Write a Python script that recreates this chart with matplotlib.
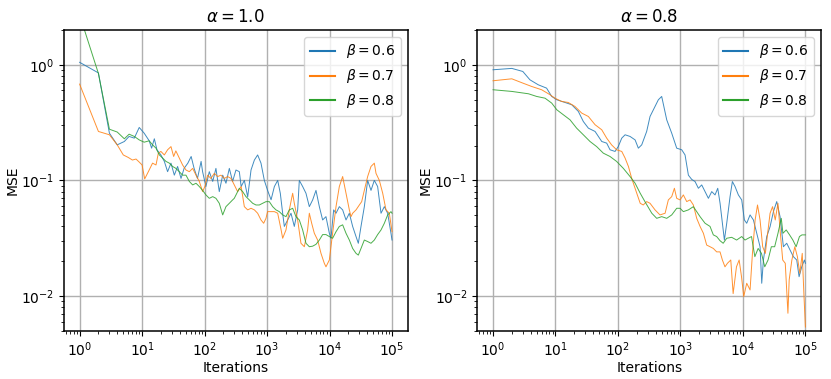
import matplotlib
matplotlib.use("Agg")
from matplotlib import pyplot as plt

# alpha = 1.0
it_a10_b06 = [1, 2, 3, 4, 5.2, 6.2, 7.5, 9, 10.8, 13, 14.2, 15.7, 17.3, 20, 22.7, 25.6, 29, 32.8, 37, 42,
              47, 54, 61, 68, 77, 88, 93, 105, 119, 135, 152, 172, 195, 220, 249, 281, 318, 360, 385, 433,
              490, 554, 627, 707, 800, 905, 1020, 1160, 1310, 1480, 1630, 1778, 1890, 2138, 2417, 2730, 3090,
              3283, 3715, 4198, 4750, 5370, 6070, 6870, 7760, 8770, 9930, 10550, 11640, 12700, 14350, 16220,
              18360, 20750, 23450, 26550, 28900, 31900, 36060, 40760, 46100, 52100, 58900, 66700, 75400,
              85200, 96300, 100000]
mse_a10_b06 = [1.05, 0.85, 0.256, 0.203, 0.217, 0.24, 0.232, 0.287, 0.256, 0.22, 0.19, 0.229, 0.184, 0.166,
               0.146, 0.119, 0.141, 0.111, 0.132, 0.104, 0.127, 0.141, 0.161, 0.127, 0.104, 0.146, 0.119,
               0.0885, 0.119, 0.098, 0.127, 0.080, 0.111, 0.0945, 0.127, 0.098, 0.123, 0.119, 0.0885, 0.100,
               0.072, 0.123, 0.150, 0.166, 0.141, 0.100, 0.082, 0.068, 0.0885, 0.100, 0.0774, 0.052, 0.040,
               0.0455, 0.052, 0.040, 0.0556, 0.100, 0.0885, 0.0774, 0.0593, 0.0678, 0.082, 0.0593, 0.0455,
               0.0486, 0.0349, 0.0316, 0.0556, 0.052, 0.0593, 0.0556, 0.0455, 0.052, 0.040, 0.0327, 0.0286,
               0.040, 0.0593, 0.100, 0.082, 0.100, 0.0885, 0.052, 0.0593, 0.052, 0.0349, 0.0305]

it_a10_b07 = [1, 2, 3, 4, 5, 6, 7, 8, 9, 10, 11, 12.6, 14.7, 16.7, 18.2, 20, 22.7, 25.6, 29, 32, 34.7, 39.4,
              44.5, 50.4, 57, 64.5, 72.9, 82.4, 93, 101, 112, 126, 143, 162, 183, 207, 234, 265, 299, 338,
              385, 433, 490, 554, 627, 707, 800, 883, 961, 1020, 1160, 1310, 1480, 1680, 1778, 2010, 2272,
              2570, 2730, 3090, 3490, 3950, 4460, 4750, 5180, 5710, 6450, 7300, 8250, 8770, 9930, 11200,
              12700, 14350, 16220, 18360, 20750, 22050, 23450, 26550, 30000, 32700, 36060, 40760, 46100,
              52100, 55460, 62700, 70960, 80170, 90600, 100000]
mse_a10_b07 = [0.68, 0.265, 0.248, 0.203, 0.166, 0.158, 0.150, 0.153, 0.144, 0.136, 0.103, 0.119, 0.141,
               0.136, 0.172, 0.178, 0.166, 0.184, 0.196, 0.161, 0.180, 0.156, 0.136, 0.123, 0.119, 0.127,
               0.111, 0.098, 0.080, 0.0885, 0.111, 0.104, 0.115, 0.108, 0.111, 0.104, 0.108, 0.104, 0.0914,
               0.080, 0.0885, 0.0593, 0.0556, 0.0574, 0.0556, 0.052, 0.0455, 0.0426, 0.047, 0.0537, 0.0537,
               0.0537, 0.052, 0.0373, 0.0316, 0.0373, 0.0556, 0.0774, 0.0634, 0.0455, 0.0286, 0.0267, 0.0373,
               0.052, 0.0426, 0.0349, 0.0305, 0.0234, 0.0192, 0.0179, 0.0205, 0.0349, 0.0593, 0.0885, 0.108,
               0.0774, 0.0556, 0.0486, 0.052, 0.0556, 0.0613, 0.0655, 0.082, 0.108, 0.132, 0.141, 0.115,
               0.100, 0.0774, 0.0556, 0.052, 0.036]

it_a10_b08 = [1, 2, 3, 4, 5.2, 6.2, 7.5, 9, 10.8, 13, 14.7, 16.7, 18.9, 21.3, 24.1, 27.3, 30.8, 34.8, 39.4,
              44.5, 50.4, 57, 64.5, 73, 82.4, 93, 105, 119, 135, 152, 172, 195, 220, 249, 281, 299, 360, 407,
              460, 520, 589, 665, 752, 850, 961, 1087, 1230, 1390, 1571, 1778, 2010, 2272, 2570, 2904, 3283,
              3715, 4198, 4750, 5370, 6070, 6870, 7760, 8770, 9930, 11200, 12700, 14350, 16220, 18360, 20750,
              23450, 26550, 28900, 31900, 36060, 40760, 46100, 52100, 58900, 66700, 75400, 85200, 96300,
              100000]
mse_a10_b08 = [2.7, 0.84, 0.277, 0.262, 0.229, 0.251, 0.24, 0.224, 0.214, 0.22, 0.203, 0.19, 0.166, 0.156,
               0.146, 0.141, 0.132, 0.127, 0.119, 0.111, 0.111, 0.098, 0.0914, 0.0945, 0.0885, 0.082, 0.075,
               0.070, 0.0724, 0.070, 0.0634, 0.0503, 0.0593, 0.0634, 0.0678, 0.070, 0.0855, 0.080, 0.0724,
               0.0678, 0.0634, 0.0613, 0.0613, 0.0634, 0.0655, 0.0655, 0.0593, 0.0556, 0.0537, 0.0503,
               0.0486, 0.0556, 0.0574, 0.0486, 0.0455, 0.0373, 0.0286, 0.0267, 0.027, 0.028, 0.0305, 0.034,
               0.034, 0.0327, 0.0316, 0.036, 0.040, 0.0413, 0.0349, 0.0305, 0.0258, 0.0234, 0.0226, 0.0258,
               0.0305, 0.0296, 0.0286, 0.0305, 0.034, 0.0373, 0.0426, 0.0503, 0.0537, 0.052]

# alpha = 0.8
it_a08_b06 = [1, 2, 3, 3.9, 5.3, 7.2, 8.7, 10.5, 14.2, 18.2, 23.2, 27.9, 33.6, 43, 55, 66, 74.6, 89.8, 101,
              115, 130, 156, 188, 212, 240, 288, 326, 392, 443, 501, 603, 725, 871, 1048, 1185, 1340, 1515,
              1714, 1937, 2190, 2477, 2800, 3167, 3580, 3953, 4306, 4693, 5050, 5504, 6223, 6780, 7476, 8454,
              9560, 10550, 11500, 13010, 14710, 16640, 18800, 20000, 21280, 24050, 27190, 30750, 34760,
              39290, 44430, 50230, 56800, 64230, 72600, 79230, 87350, 96400, 100000]
mse_a08_b06 = [0.905, 0.93, 0.875, 0.741, 0.671, 0.628, 0.532, 0.498, 0.472, 0.451, 0.395, 0.323, 0.283,
               0.265, 0.217, 0.21, 0.184, 0.178, 0.196, 0.232, 0.248, 0.24, 0.224, 0.19, 0.203, 0.265, 0.357,
               0.436, 0.498, 0.532, 0.334, 0.256, 0.19, 0.184, 0.166, 0.111, 0.102, 0.0977, 0.0855, 0.0914,
               0.080, 0.070, 0.080, 0.0749, 0.0855, 0.0634, 0.0426, 0.0305, 0.0426, 0.0724, 0.0977, 0.0885,
               0.0749, 0.0678, 0.0455, 0.0426, 0.0503, 0.0455, 0.0349, 0.0267, 0.0129, 0.0205, 0.0327,
               0.0398, 0.0537, 0.0656, 0.0486, 0.0267, 0.0286, 0.025, 0.0219, 0.0205, 0.0147, 0.0179,
               0.0205, 0.0192]

it_a08_b07 = [1, 2, 3, 4.16, 6, 8.2, 9.8, 12.5, 16, 20.5, 26.3, 33.6, 43, 55, 66, 79, 95, 115, 130, 147,
              166, 200, 227, 254, 288, 326, 392, 470, 568, 640, 725, 800, 871, 986, 1113, 1260, 1425, 1610,
              1820, 2060, 2330, 2630, 2975, 3360, 3800, 4300, 4690, 5160, 5650, 6390, 6970, 7880, 8700, 9490,
              10300, 11500, 13010, 14200, 15680, 17120, 18800, 20700, 22850, 25240, 27190, 29830, 32900,
              36360, 39290, 43330, 47600, 52500, 55000, 60700, 67700, 74400, 81400, 89000, 94500, 100000]
mse_a08_b07 = [0.727, 0.756, 0.694, 0.649, 0.608, 0.55, 0.514, 0.482, 0.472, 0.436, 0.382, 0.357, 0.303,
               0.274, 0.232, 0.203, 0.184, 0.178, 0.156, 0.132, 0.104, 0.0774, 0.0634, 0.0613, 0.0656,
               0.0634, 0.0556, 0.0503, 0.052, 0.0678, 0.0724, 0.0855, 0.070, 0.0678, 0.0749, 0.0656, 0.0678,
               0.0613, 0.047, 0.040, 0.0349, 0.0276, 0.0267, 0.0258, 0.0241, 0.0241, 0.0205, 0.0179, 0.0192,
               0.0205, 0.0105, 0.0179, 0.0205, 0.0147, 0.0099, 0.0129, 0.0113, 0.0234, 0.0455, 0.0613,
               0.0455, 0.0267, 0.0234, 0.0373, 0.052, 0.0593, 0.0455, 0.0634, 0.0373, 0.0205, 0.0192, 0.0071,
               0.0138, 0.0205, 0.0267, 0.0219, 0.0157, 0.0234, 0.0105, 0.0054]

it_a08_b08 = [1, 2, 3.7, 5, 6.8, 8.7, 10.5, 13.4, 17.1, 21.8, 27.9, 35.7, 45.6, 58.3, 74.6, 95, 122, 156,
              188, 227, 270, 348, 417, 501, 603, 725, 871, 986, 1113, 1340, 1610, 1820, 2060, 2477, 2975,
              3360, 3800, 4300, 4830, 5500, 6610, 7930, 9560, 10790, 12170, 13730, 15510, 17520, 19800,
              22350, 25240, 28510, 32200, 36400, 41100, 43700, 49300, 55800, 63000, 71100, 80300, 88000,
              100000]
mse_a08_b08 = [0.608, 0.588, 0.561, 0.532, 0.514, 0.466, 0.408, 0.369, 0.334, 0.283, 0.248, 0.217, 0.196,
               0.172, 0.161, 0.146, 0.127, 0.108, 0.0945, 0.0774, 0.0656, 0.052, 0.047, 0.0486, 0.047, 0.0503,
               0.0574, 0.0574, 0.0537, 0.0556, 0.0593, 0.0537, 0.0486, 0.0426, 0.040, 0.0338, 0.0327, 0.0301,
               0.0286, 0.0316, 0.0322, 0.0305, 0.0327, 0.0305, 0.0316, 0.0327, 0.0219, 0.0258, 0.0234,
               0.0179, 0.0205, 0.0267, 0.0267, 0.0349, 0.047, 0.0349, 0.0373, 0.0338, 0.0305, 0.0267, 0.0327,
               0.0338, 0.0338]

BETAS = ["0.6", "0.7", "0.8"]


def mse_panel(ax, alpha, curves):
    """Draw the MSE curves for one alpha on a log-log axis"""
    for beta, (it, mse) in zip(BETAS, curves):
        ax.loglog(it, mse, lw=0.7, alpha=0.85, label=r"$\beta = {}$".format(beta))
    ax.set_ylim(0.005, 2)
    ax.set_title(r"$\alpha = {}$".format(alpha))
    ax.set_xlabel("Iterations", labelpad=1)
    ax.set_ylabel("MSE", labelpad=1)
    ax.grid(True, which="major", lw=1.0)
    for spine in ax.spines.values():
        spine.set_linewidth(1.1)
    leg = ax.legend(loc="upper right", handlelength=1.8)
    for line in leg.get_lines():
        line.set_linewidth(1.5)
        line.set_alpha(1.0)


def main():
    fig, axes = plt.subplots(1, 2, figsize=(8.31, 3.79), dpi=100)
    fig.subplots_adjust(left=0.077, right=0.988, bottom=0.127, top=0.921, wspace=0.203)

    mse_panel(axes[0], "1.0", [(it_a10_b06, mse_a10_b06), (it_a10_b07, mse_a10_b07),
                               (it_a10_b08, mse_a10_b08)])
    mse_panel(axes[1], "0.8", [(it_a08_b06, mse_a08_b06), (it_a08_b07, mse_a08_b07),
                               (it_a08_b08, mse_a08_b08)])

    fig.savefig("out.png")
    plt.close(fig)


if __name__ == "__main__":
    main()
